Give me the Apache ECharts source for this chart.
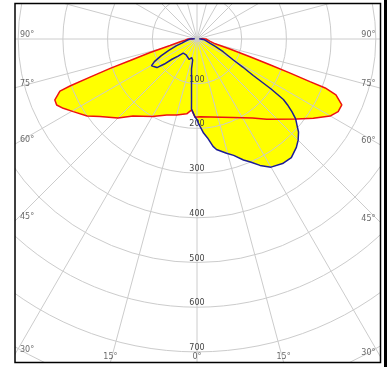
<!DOCTYPE html>
<html>
<head>
<meta charset="utf-8">
<script src="https://cdn.jsdelivr.net/npm/echarts@6/dist/echarts.min.js"></script>
<style>
html, body { margin: 0; padding: 0; background: #fff; }
#main { width: 387px; height: 367px; }
</style>
</head>
<body>
<div id="main"></div>
<script>
// 光强分布数据 (角度: 0 = 向下, 负值 = 左侧)
var redAngles = [-95, -90, -84.3, -80.6, -76.5, -74, -72.2, -71.3, -70.4, -69.7, -69.2, -66.8, -64.8, -62.6, -59.6, -55, -51.4, -45, -39.7, -30, -21.7, -15, -7.8, -4.3, -1.5, 2.2, 10, 24.7, 35, 41, 51.2, 55.7, 59.9, 62.8, 65.5, 68.1, 69.1, 69.3, 69.9, 70.5, 71.5, 73.1, 75.1, 80, 90, 95];
var redValues = [8, 20, 27, 38, 62, 109, 157, 205, 254, 303, 328, 346, 347, 337, 321, 300, 278, 250, 224, 200, 183, 176, 169, 159, 175, 174, 177, 193, 216, 238, 286, 315, 344, 355, 356, 335, 307, 270, 222, 173, 125, 77, 42, 30, 20, 8];

var blueAngles = [-95, -90, -85, -80, -75, -72, -68, -65, -62, -59.5, -57, -54.5, -52.5, -51, -48, -44.5, -43.4, -34.5, -28.7, -20.8, -19.9, -16.2, -11.6, -10.4, -7.8, -6.3, -5.2, -4.5, -3, -1.5, 0, 1, 4, 6, 8.5, 10, 14.5, 17.5, 21, 23.5, 26.5, 30, 34.5, 38.5, 42.5, 45, 47.5, 49, 51, 52.5, 54, 55, 56, 57, 58.5, 60, 64, 68, 72, 78, 84, 90, 95];
var blueValues = [5, 15, 20, 25, 35, 48, 68, 88, 108, 118, 117, 110, 92, 72, 57, 44, 39, 43, 45, 49, 46, 43, 48, 68, 90, 112, 135, 157, 160, 174, 181, 189, 211, 222, 243, 251, 264, 273, 290, 300, 316, 331, 338, 339, 329, 320, 308, 297, 284, 268, 250, 236, 200, 150, 120, 94, 65, 45, 31, 22, 17, 15, 5];

var radiusTicks = [100, 200, 300, 400, 500, 600, 700];
var angleLabels = [90, 75, 60, 45, 30, 15, 0];

var CX = 197, CY = 39, R_MAX = 900, R_PX = 402.3;
var FRAME = { l: 15, t: 3, r: 380.5, b: 362 };
var unitPerPx = R_MAX / R_PX;

function toPolar(angles, values) {
    return angles.map(function (a, i) {
        return [values[i], a < 0 ? a + 360 : a];
    });
}

// 边框上的角度标注
var labelData = [];
angleLabels.forEach(function (a) {
    var rad = a * Math.PI / 180;
    var base = { fontSize: 8, color: '#444', fontFamily: 'DejaVu Sans' };
    if (a >= 30) {
        var rl = (CX - FRAME.l) / Math.sin(rad);
        var rr = (FRAME.r - CX) / Math.sin(rad);
        labelData.push({ value: [rl * unitPerPx, 360 - a], label: Object.assign({ formatter: a + '°', align: 'left', verticalAlign: 'middle', offset: [5, -4] }, base) });
        labelData.push({ value: [rr * unitPerPx, a], label: Object.assign({ formatter: a + '°', align: 'right', verticalAlign: 'middle', offset: [-5, -4] }, base) });
    } else {
        var rb = (FRAME.b - CY) / Math.cos(rad);
        labelData.push({ value: [rb * unitPerPx, a], label: Object.assign({ formatter: a + '°', align: 'center', verticalAlign: 'bottom', offset: [0, -1] }, base) });
        if (a > 0) {
            labelData.push({ value: [rb * unitPerPx, 360 - a], label: Object.assign({ formatter: a + '°', align: 'center', verticalAlign: 'bottom', offset: [0, -1] }, base) });
        }
    }
});

var myChart = echarts.init(document.getElementById('main'));

var option = {
    backgroundColor: '#fff',
    animation: false,
    polar: {
        center: [CX, CY],
        radius: R_PX
    },
    angleAxis: {
        type: 'value',
        min: 0,
        max: 360,
        interval: 15,
        startAngle: 270,
        clockwise: false,
        z: 3,
        axisLine: { show: false },
        axisTick: { show: false },
        axisLabel: { show: false },
        splitLine: { lineStyle: { color: '#cccccc', width: 1 } }
    },
    radiusAxis: {
        type: 'value',
        min: 0,
        max: R_MAX,
        interval: 100,
        z: 3,
        axisLine: { show: false },
        axisTick: { show: false },
        axisLabel: {
            margin: 0,
            align: 'center',
            verticalAlign: 'bottom',
            fontSize: 8,
            color: '#444',
            fontFamily: 'DejaVu Sans',
            formatter: function (v) {
                return radiusTicks.indexOf(v) >= 0 ? String(v) : '';
            }
        },
        splitLine: { lineStyle: { color: '#cccccc', width: 1 } }
    },
    series: [{
        type: 'line',
        coordinateSystem: 'polar',
        data: toPolar(redAngles, redValues),
        showSymbol: false,
        lineStyle: { width: 0 },
        areaStyle: { color: '#ffff00', opacity: 1 },
        z: 1
    }, {
        type: 'line',
        coordinateSystem: 'polar',
        data: toPolar(blueAngles, blueValues),
        showSymbol: false,
        lineStyle: { width: 0 },
        areaStyle: { color: '#ffff00', opacity: 1 },
        z: 1
    }, {
        type: 'line',
        coordinateSystem: 'polar',
        data: toPolar(redAngles, redValues),
        showSymbol: false,
        lineStyle: { color: '#ee1111', width: 1.5 },
        z: 5
    }, {
        type: 'line',
        coordinateSystem: 'polar',
        data: toPolar(blueAngles, blueValues),
        showSymbol: false,
        lineStyle: { color: '#1c1c96', width: 1.5 },
        z: 6
    }, {
        type: 'scatter',
        coordinateSystem: 'polar',
        data: labelData,
        symbolSize: 0,
        label: { show: true, position: 'inside' },
        silent: true,
        z: 7
    }],
    graphic: [
        { type: 'rect', z: 100, shape: { x: 0, y: 0, width: FRAME.l, height: 367 }, style: { fill: '#fff' } },
        { type: 'rect', z: 100, shape: { x: 0, y: 0, width: 387, height: FRAME.t }, style: { fill: '#fff' } },
        { type: 'rect', z: 100, shape: { x: 0, y: FRAME.b, width: 387, height: 367 - FRAME.b }, style: { fill: '#fff' } },
        { type: 'rect', z: 100, shape: { x: FRAME.r, y: 0, width: 387 - FRAME.r, height: 367 }, style: { fill: '#fff' } },
        { type: 'rect', z: 101, shape: { x: FRAME.l, y: FRAME.t + 0.5, width: FRAME.r - FRAME.l, height: FRAME.b - FRAME.t }, style: { fill: 'none', stroke: '#000', lineWidth: 1.5 } },
        { type: 'rect', z: 101, shape: { x: 384, y: 0, width: 3, height: 367 }, style: { fill: '#000' } }
    ]
};

myChart.setOption(option);
</script>
</body>
</html>
